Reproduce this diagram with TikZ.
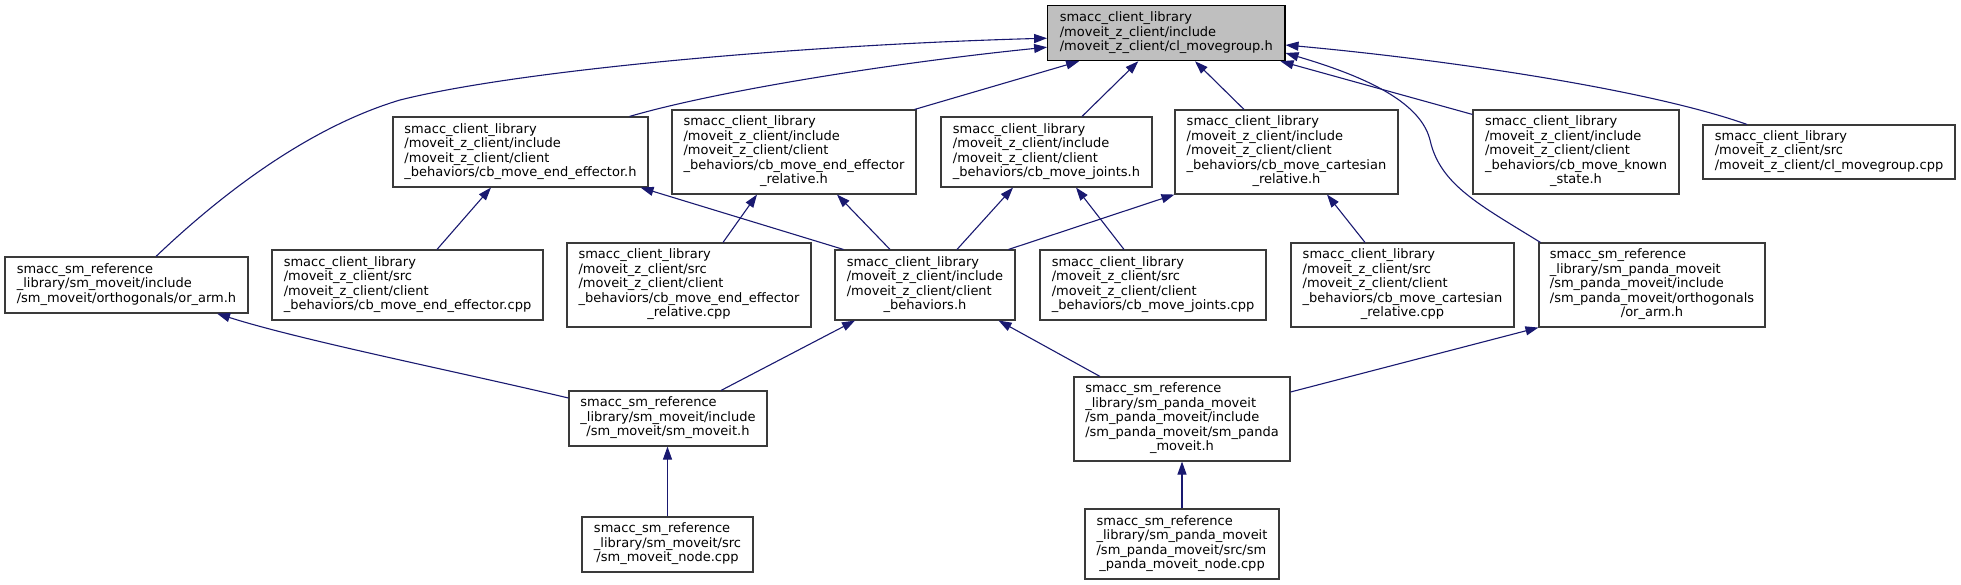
\documentclass[tikz,border=0pt]{standalone}
\usepackage{fontspec}
\setmainfont{DejaVu Sans}
\usetikzlibrary{arrows.meta}
\definecolor{mblue}{HTML}{191970}
\definecolor{boxline}{HTML}{3A3A3A}
\definecolor{mainfill}{HTML}{BFBFBF}
\newcommand\fl[2]{\begin{tabular}{@{}l@{}}#1\\\multicolumn{1}{@{}c@{}}{#2}\end{tabular}}
\tikzset{
  fbox/.style={draw=boxline, line width=1.1pt, fill=white, inner sep=0pt, rectangle,
    font=\fontsize{13}{14.5}\selectfont},
  mainbox/.style={fbox, fill=mainfill, draw=black},
  dep/.style={draw=mblue, line width=1.1pt, -{Triangle[length=13pt,width=9pt]}}
}
\begin{document}
\begin{tikzpicture}[x=1pt,y=-1pt]
\useasboundingbox (0,0) rectangle (1961,585);
% row 1
\node[mainbox, minimum width=237.3pt, minimum height=55pt] (Main) at (1166.3,33.2)
  {\fl{smacc\_client\_library\\/moveit\_z\_client/include}{/moveit\_z\_client/cl\_movegroup.h}};
% row 2
\node[fbox, minimum width=255pt, minimum height=70pt] (A) at (520.5,152)
  {\fl{smacc\_client\_library\\/moveit\_z\_client/include\\/moveit\_z\_client/client}{\_behaviors/cb\_move\_end\_effector.h}};
\node[fbox, minimum width=244pt, minimum height=84pt] (B) at (794,152)
  {\fl{smacc\_client\_library\\/moveit\_z\_client/include\\/moveit\_z\_client/client\\\_behaviors/cb\_move\_end\_effector}{\_relative.h}};
\node[fbox, minimum width=211pt, minimum height=70pt] (C) at (1046.5,152)
  {\fl{smacc\_client\_library\\/moveit\_z\_client/include\\/moveit\_z\_client/client}{\_behaviors/cb\_move\_joints.h}};
\node[fbox, minimum width=223pt, minimum height=84pt] (D) at (1286.5,152)
  {\fl{smacc\_client\_library\\/moveit\_z\_client/include\\/moveit\_z\_client/client\\\_behaviors/cb\_move\_cartesian}{\_relative.h}};
\node[fbox, minimum width=206pt, minimum height=84pt] (E) at (1576,152)
  {\fl{smacc\_client\_library\\/moveit\_z\_client/include\\/moveit\_z\_client/client\\\_behaviors/cb\_move\_known}{\_state.h}};
\node[fbox, minimum width=252pt, minimum height=54pt] (F) at (1829,152)
  {\fl{smacc\_client\_library\\/moveit\_z\_client/src}{/moveit\_z\_client/cl\_movegroup.cpp}};
% row 3
\node[fbox, minimum width=243pt, minimum height=56pt] (G) at (126.5,285)
  {\fl{smacc\_sm\_reference\\\_library/sm\_moveit/include}{/sm\_moveit/orthogonals/or\_arm.h}};
\node[fbox, minimum width=271pt, minimum height=70pt] (H) at (407.5,285)
  {\fl{smacc\_client\_library\\/moveit\_z\_client/src\\/moveit\_z\_client/client}{\_behaviors/cb\_move\_end\_effector.cpp}};
\node[fbox, minimum width=244pt, minimum height=84pt] (I) at (689,285)
  {\fl{smacc\_client\_library\\/moveit\_z\_client/src\\/moveit\_z\_client/client\\\_behaviors/cb\_move\_end\_effector}{\_relative.cpp}};
\node[fbox, minimum width=180pt, minimum height=70pt] (J) at (925,285)
  {\fl{smacc\_client\_library\\/moveit\_z\_client/include\\/moveit\_z\_client/client}{\_behaviors.h}};
\node[fbox, minimum width=226pt, minimum height=70pt] (K) at (1153,285)
  {\fl{smacc\_client\_library\\/moveit\_z\_client/src\\/moveit\_z\_client/client}{\_behaviors/cb\_move\_joints.cpp}};
\node[fbox, minimum width=223pt, minimum height=84pt] (L) at (1402.5,285)
  {\fl{smacc\_client\_library\\/moveit\_z\_client/src\\/moveit\_z\_client/client\\\_behaviors/cb\_move\_cartesian}{\_relative.cpp}};
\node[fbox, minimum width=226pt, minimum height=84pt] (M) at (1652,285)
  {\fl{smacc\_sm\_reference\\\_library/sm\_panda\_moveit\\/sm\_panda\_moveit/include\\/sm\_panda\_moveit/orthogonals}{/or\_arm.h}};
% row 4
\node[fbox, minimum width=198pt, minimum height=55pt] (N) at (668,418.5)
  {\fl{smacc\_sm\_reference\\\_library/sm\_moveit/include}{/sm\_moveit/sm\_moveit.h}};
\node[fbox, minimum width=216pt, minimum height=84pt] (O) at (1182,419)
  {\fl{smacc\_sm\_reference\\\_library/sm\_panda\_moveit\\/sm\_panda\_moveit/include\\/sm\_panda\_moveit/sm\_panda}{\_moveit.h}};
% row 5
\node[fbox, minimum width=171pt, minimum height=55pt] (P) at (667.5,544.5)
  {\fl{smacc\_sm\_reference\\\_library/sm\_moveit/src}{/sm\_moveit\_node.cpp}};
\node[fbox, minimum width=194pt, minimum height=70pt] (Q) at (1182,544)
  {\fl{smacc\_sm\_reference\\\_library/sm\_panda\_moveit\\/sm\_panda\_moveit/src/sm}{\_panda\_moveit\_node.cpp}};
% edges to Main
\draw[dep] ([xshift=29.5pt]G.north) .. controls (210,205) and (300,130) .. (400,100)
  .. controls (520,70) and (800,45) .. ([yshift=-5pt]Main.west);
\draw[dep] ([xshift=-19pt]A.north east) .. controls (720,90) and (900,62) .. ([yshift=-14pt]Main.west);
\draw[dep] ([xshift=-2pt]B.north east) -- ([xshift=32pt]Main.south west);
\draw[dep] ([xshift=35.5pt]C.north) -- ([xshift=-28pt]Main.south);
\draw[dep] ([xshift=-42.5pt]D.north) -- ([xshift=28.7pt]Main.south);
\draw[dep] ([yshift=-5pt]E.north west) -- ([xshift=-5pt]Main.south east);
\draw[dep] ([xshift=-82pt]F.north) .. controls (1650,90) and (1450,60) .. ([yshift=-11.8pt]Main.east);
\draw[dep] ([xshift=2pt]M.north west) .. controls (1480,205) and (1440,185) .. (1430,140)
  .. controls (1420,100) and (1360,75) .. ([yshift=-19.8pt]Main.east);
% row 3 to row 2
\draw[dep] ([xshift=9pt]J.north west) -- ([xshift=-8pt]A.south east);
\draw[dep] ([xshift=34pt]I.north) -- ([xshift=-37pt]B.south);
\draw[dep] ([xshift=-35pt]J.north) -- ([xshift=43pt]B.south);
\draw[dep] ([xshift=32pt]J.north) -- ([xshift=-33.5pt]C.south);
\draw[dep] ([xshift=-7pt]J.north east) -- (D.south west);
\draw[dep] ([xshift=29.5pt]H.north) -- ([xshift=-29.5pt]A.south);
\draw[dep] ([xshift=-29pt]K.north) -- ([xshift=29.5pt]C.south);
\draw[dep] ([xshift=-37.5pt]L.north) -- ([xshift=40.5pt]D.south);
% row 4 to row 3
\draw[dep] ([yshift=20.5pt]N.west) .. controls (450,370) and (300,340) .. ([xshift=90.5pt]G.south);
\draw[dep] ([xshift=53pt]N.north) -- ([xshift=-70pt]J.south);
\draw[dep] ([xshift=-82pt]O.north) -- ([xshift=-17pt]J.south east);
\draw[dep] ([yshift=27pt]O.east) -- (M.south west);
% row 5 to row 4
\draw[dep] (P.north) -- (P.north |- N.south);
\draw[dep] (Q.north) -- (O.south);
\end{tikzpicture}
\end{document}
